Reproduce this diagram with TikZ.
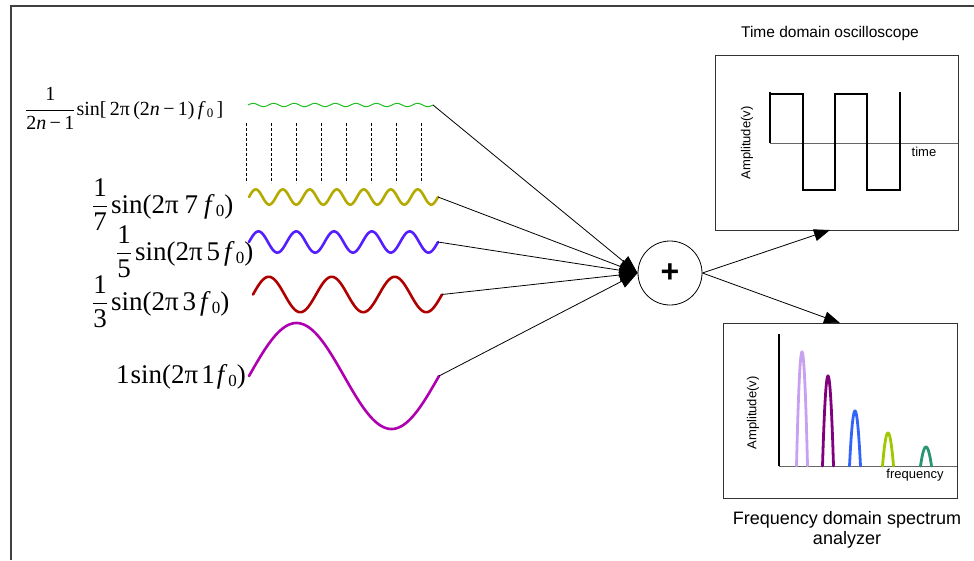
\documentclass[tikz,border=0pt]{standalone}
\usepackage{amsmath}
\usepackage{fontspec}
\setmainfont{Liberation Serif}
\newfontfamily\sansf{Liberation Sans}
\usetikzlibrary{arrows.meta}
\definecolor{cgreen}{RGB}{30,190,30}
\definecolor{cyellow}{RGB}{180,170,0}
\definecolor{cblue}{RGB}{85,30,255}
\definecolor{cred}{RGB}{175,0,0}
\definecolor{cpurple}{RGB}{175,0,175}
\definecolor{plav}{RGB}{200,160,240}
\definecolor{ppur}{RGB}{128,0,128}
\definecolor{pblue}{RGB}{50,100,250}
\definecolor{pyg}{RGB}{160,200,0}
\definecolor{pgrn}{RGB}{40,150,110}
\newcommand{\fr}[2]{\ensuremath{\genfrac{}{}{0.6pt}{0}{\hbox{#1}}{\hbox{#2}}}}
\newcommand{\fz}[1]{\textit{f}\kern1pt\raisebox{-0.3ex}{\fontsize{#1}{#1}\selectfont 0}}
\tikzset{
  frameline/.style={draw=black!75, line width=1.5pt},
  wv/.style={line width=2.6pt, line join=round, line cap=round},
  guide/.style={draw=black, line width=1pt, dash pattern=on 3pt off 2pt},
  conn/.style={draw=black, line width=0.8pt, -{Triangle[length=18pt,width=14pt]}},
  outarr/.style={draw=black, line width=0.8pt, -{Triangle[length=16pt,width=12pt]}},
  box/.style={draw=black!80, line width=1pt, inner sep=0pt},
  lbl/.style={inner sep=0pt, font=\fontsize{27}{29}\selectfont},
  lblsmall/.style={inner sep=0pt, font=\fontsize{20}{22}\selectfont},
  sanslbl/.style={inner sep=0pt, font=\sansf\fontsize{13}{15}\selectfont},
  sq/.style={draw=black, line width=2.8pt},
  axisline/.style={draw=black!60, line width=0.8pt},
  peak/.style={line width=2.8pt, line cap=round}
}
\begin{document}
\begin{tikzpicture}[x=1pt,y=-1pt]
\useasboundingbox (0,0) rectangle (974,560);
\draw[frameline] (11,560) -- (11,6) -- (974,6);

% waves
\draw[cgreen, line width=1pt] plot[domain=0:185, samples=300] ({248+\x},{105-1.6*sin(\x/185*3240)});
\draw[wv, cyellow] plot[domain=0:189, samples=300] ({249+\x},{197-7.6*sin(\x/189*2520)});
\draw[wv, cblue] plot[domain=0:189, samples=250] ({249+\x},{242-10.6*sin(\x/189*1800)});
\draw[wv, cred] plot[domain=0:189, samples=200] ({253+\x},{294.5-17.7*sin(\x/189*1080)});
\draw[wv, cpurple] plot[domain=0:190, samples=150] ({249+\x},{376-53*sin(\x/190*360)});
\coordinate (en) at (433,105);
\coordinate (e7) at (438,197);
\coordinate (e5) at (438,242);
\coordinate (e3) at (442,294.5);
\coordinate (e1) at (439,376);

\foreach \i in {0,...,7} \draw[guide] ({246+25*\i},123) -- ({246+25*\i},183);

% labels
\node[lblsmall, anchor=base west] (ln) at (25,115) {\fr{1}{2\textit{n}\,−\,1}\kern1pt sin[\,2π\,(2\textit{n}\,−\,1)\,\fz{13pt}\,]};
\node[lbl, anchor=base west] (l7) at (92,213) {\fr{1}{7}\kern3pt sin(2π\kern6pt 7\kern6pt\fz{17pt})};
\node[lbl, anchor=base west] (l5) at (116,260) {\fr{1}{5}\kern3pt sin(2π\kern4pt 5\kern4pt\fz{17pt})};
\node[lbl, anchor=base west] (l3) at (92,310) {\fr{1}{3}\kern3pt sin(2π\kern4pt 3\kern4pt\fz{17pt})};
\node[lbl, anchor=base west] (l1) at (116,383) {1\kern1pt sin(2π\kern3pt 1\kern2pt\fz{17pt})};

% summer
\node[circle, draw=black, line width=0.8pt, minimum size=64pt, inner sep=0pt,
      font=\sansf\bfseries\fontsize{32}{32}\selectfont] (sum) at (670,273) {+};
\draw[conn] (en) -- (sum.west);
\draw[conn] (e7) -- (sum.west);
\draw[conn] (e5) -- (sum.west);
\draw[conn] (e3) -- (sum.west);
\draw[conn] (e1) -- (sum.west);

% oscilloscope
\node[sanslbl, font=\sansf\fontsize{15.5}{17}\selectfont, anchor=base] (osct) at (830,37) {Time domain oscilloscope};
\node[box, minimum width=243pt, minimum height=175pt] (osc) at (836.5,142.5) {};
\draw[axisline] (770,143) -- (958,143);
\draw[sq] (770,143) -- (770,92) (770,94) -- (803,94) -- (803,190) -- (835,190) -- (835,94) -- (867,94) -- (867,190) -- (900,190) -- (900,92);
\node[sanslbl] (tlab) at (924,152) {time};
\node[sanslbl, rotate=90] (ampa) at (747,143) {Amplitude(v)};
\coordinate (osctip) at (830,230);

% spectrum analyzer
\node[box, minimum width=234pt, minimum height=175pt] (spec) at (840,410.5) {};
\draw[black, line width=2.5pt] (779,334) -- (779,466);
\draw[axisline] (779,466) -- (957,466);
\draw[peak, plav] plot[domain=-5.5:5.5, samples=40] ({802+\x},{466-114*(1-\x*\x/30.25)});
\draw[peak, ppur] plot[domain=-5.5:5.5, samples=40] ({828+\x},{466-90*(1-\x*\x/30.25)});
\draw[peak, pblue] plot[domain=-5.5:5.5, samples=40] ({855+\x},{466-55*(1-\x*\x/30.25)});
\draw[peak, pyg] plot[domain=-5.5:5.5, samples=40] ({888+\x},{466-33*(1-\x*\x/30.25)});
\draw[peak, pgrn] plot[domain=-5.5:5.5, samples=40] ({926+\x},{466-19*(1-\x*\x/30.25)});
\node[sanslbl] (flab) at (915,475) {frequency};
\node[sanslbl, rotate=90] (ampb) at (753,413) {Amplitude(v)};
\coordinate (spectip) at (840,323);
\node[inner sep=0pt, align=center, font=\sansf\fontsize{18}{20}\selectfont] (spect) at (847,530) {Frequency domain spectrum\\analyzer};

\draw[outarr] (sum.east) -- (osctip);
\draw[outarr] (sum.east) -- (spectip);
\end{tikzpicture}
\end{document}
